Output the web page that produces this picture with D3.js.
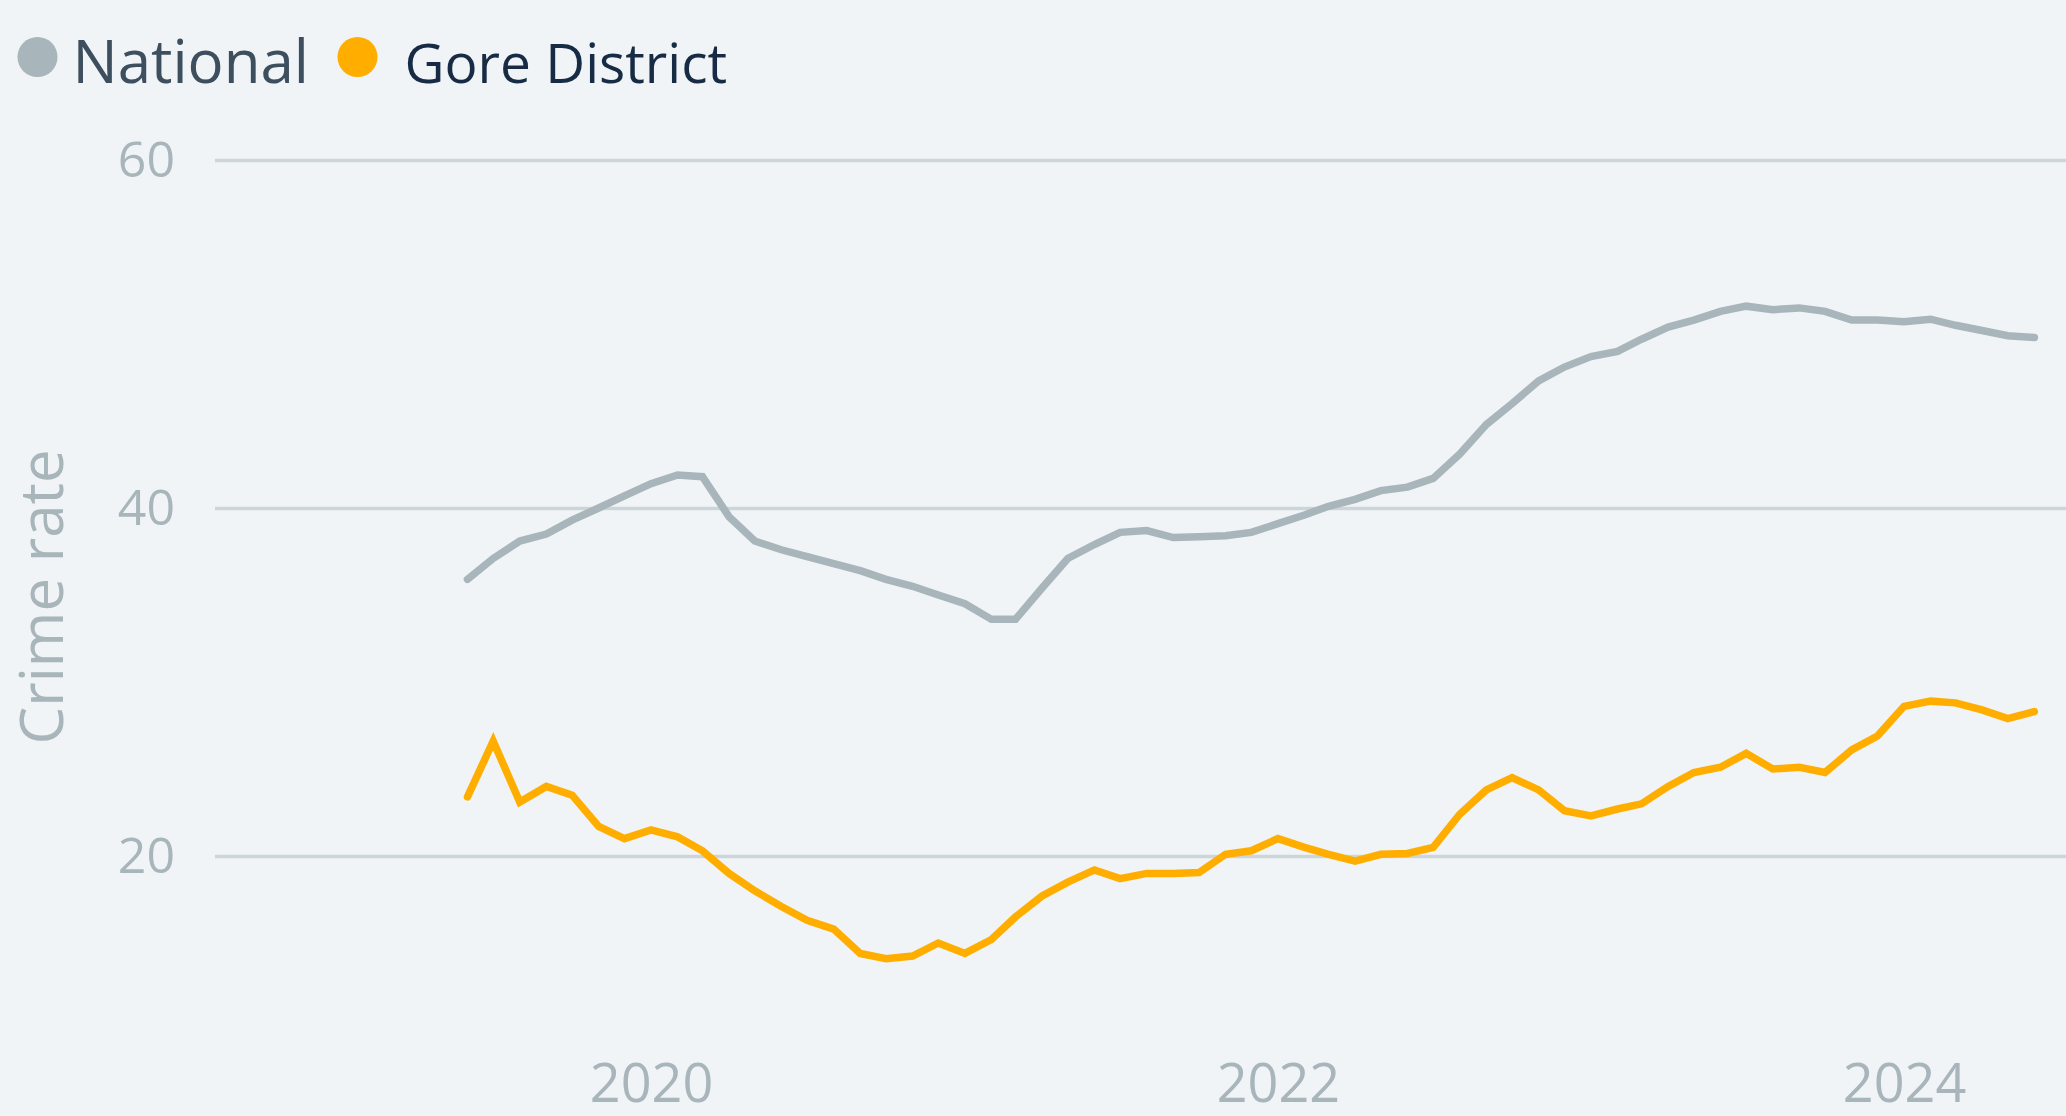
<!DOCTYPE html>
<html>
<head>
<meta charset="utf-8">
<script src="https://cdn.jsdelivr.net/npm/d3@7"></script>
<style>
  html, body { margin: 0; padding: 0; background: #f0f4f7; }
  svg { display: block; font-family: "Open Sans", sans-serif; }
</style>
</head>
<body>
<script>
// monthly crime rate, Jun 2019 - Jun 2024
let months = d3.timeMonth.range(new Date(2019, 5, 1), new Date(2024, 6, 1));

let national = [
  35.9, 37.1, 38.1, 38.5, 39.3, 40.0, 40.7, 41.4, 41.9, 41.8,
  39.5, 38.1, 37.6, 37.2, 36.8, 36.4, 35.9, 35.5, 35.0, 34.5,
  33.6, 33.6, 35.4, 37.1, 37.9, 38.6, 38.7, 38.3, 38.35, 38.4,
  38.6, 39.1, 39.6, 40.1, 40.5, 41.0, 41.2, 41.7, 43.1, 44.8,
  46.0, 47.3, 48.1, 48.7, 49.0, 49.7, 50.4, 50.8, 51.3, 51.6,
  51.4, 51.5, 51.3, 50.8, 50.8, 50.7, 50.85, 50.5, 50.2, 49.9,
  49.8
];

let gore = [
  23.4, 26.6, 23.1, 24.0, 23.5, 21.7, 21.0, 21.5, 21.1, 20.3,
  19.0, 18.0, 17.1, 16.3, 15.8, 14.4, 14.1, 14.25, 15.0, 14.4,
  15.2, 16.5, 17.7, 18.5, 19.2, 18.7, 19.0, 19.0, 19.05, 20.1,
  20.3, 21.0, 20.5, 20.1, 19.7, 20.1, 20.15, 20.5, 22.4, 23.8,
  24.5, 23.8, 22.6, 22.3, 22.7, 23.0, 24.0, 24.8, 25.1, 25.9,
  25.0, 25.1, 24.8, 26.1, 26.9, 28.6, 28.9, 28.8, 28.4, 27.9,
  28.3
];

let seriesNames = ["National", "Gore District"];
let seriesColors = {"National": "#a8b5bb", "Gore District": "#ffae00"};
let yTicks = [20, 40, 60];
let xTicks = [new Date(2020, 0, 1), new Date(2022, 0, 1), new Date(2024, 0, 1)];

let width = 2066, height = 1116;
let plotLeft = 215, plotRight = width;

let svg = d3.select("body").append("svg")
    .attr("width", width)
    .attr("height", height);

svg.append("rect")
    .attr("width", width)
    .attr("height", height)
    .attr("fill", "#f0f4f7");

let x = d3.scaleTime()
    .domain([new Date(2020, 0, 1), new Date(2024, 0, 1)])
    .range([651, 1904]);

let y = d3.scaleLinear()
    .domain([20, 60])
    .range([856, 160]);

// gridlines + y labels
let yAxis = svg.append("g")
    .attr("transform", "translate(" + plotLeft + ",0)")
    .call(d3.axisLeft(y).tickValues(yTicks).tickSize(-(plotRight - plotLeft)).tickPadding(40));
yAxis.select(".domain").remove();
yAxis.selectAll(".tick line")
    .attr("stroke", "#cdd5da")
    .attr("stroke-width", 3.5);
yAxis.selectAll(".tick text")
    .attr("fill", "#a8b5bb")
    .attr("font-size", 50)
    .attr("font-family", "Open Sans, sans-serif");

// x labels
let xAxis = svg.append("g")
    .attr("transform", "translate(0,1030)")
    .call(d3.axisBottom(x).tickValues(xTicks).tickSize(0).tickPadding(0).tickFormat(d3.timeFormat("%Y")));
xAxis.select(".domain").remove();
xAxis.selectAll(".tick text")
    .attr("fill", "#a8b5bb")
    .attr("font-size", 54)
    .attr("font-family", "Open Sans, sans-serif")
    .attr("dy", null)
    .attr("y", 72);

// axis title
svg.append("text")
    .attr("transform", "translate(63,597) rotate(-90)")
    .attr("text-anchor", "middle")
    .attr("fill", "#a8b5bb")
    .attr("font-size", 60)
    .text("Crime rate");

// lines
let line = d3.line()
    .x(function(d) { return x(d.date); })
    .y(function(d) { return y(d.value); });

let seriesData = {
  "National": months.map(function(m, i) { return {date: m, value: national[i]}; }),
  "Gore District": months.map(function(m, i) { return {date: m, value: gore[i]}; })
};

seriesNames.forEach(function(name) {
  svg.append("path")
      .datum(seriesData[name])
      .attr("d", line)
      .attr("fill", "none")
      .attr("stroke", seriesColors[name])
      .attr("stroke-width", 7.5)
      .attr("stroke-linecap", "round")
      .attr("stroke-linejoin", "miter");
});

// legend
let legendX = [37.5, 357.5];
let legendText = {"National": "#3d4f5f", "Gore District": "#172b44"};
let legendSize = {"National": 60, "Gore District": 55};
seriesNames.forEach(function(name, i) {
  let g = svg.append("g").attr("transform", "translate(" + legendX[i] + ",57)");
  g.append("circle")
      .attr("r", 20)
      .attr("fill", seriesColors[name]);
  g.append("text")
      .attr("x", i == 0 ? 35 : 47)
      .attr("y", 26)
      .attr("fill", legendText[name])
      .attr("font-size", legendSize[name])
      .text(name);
});
</script>
</body>
</html>
